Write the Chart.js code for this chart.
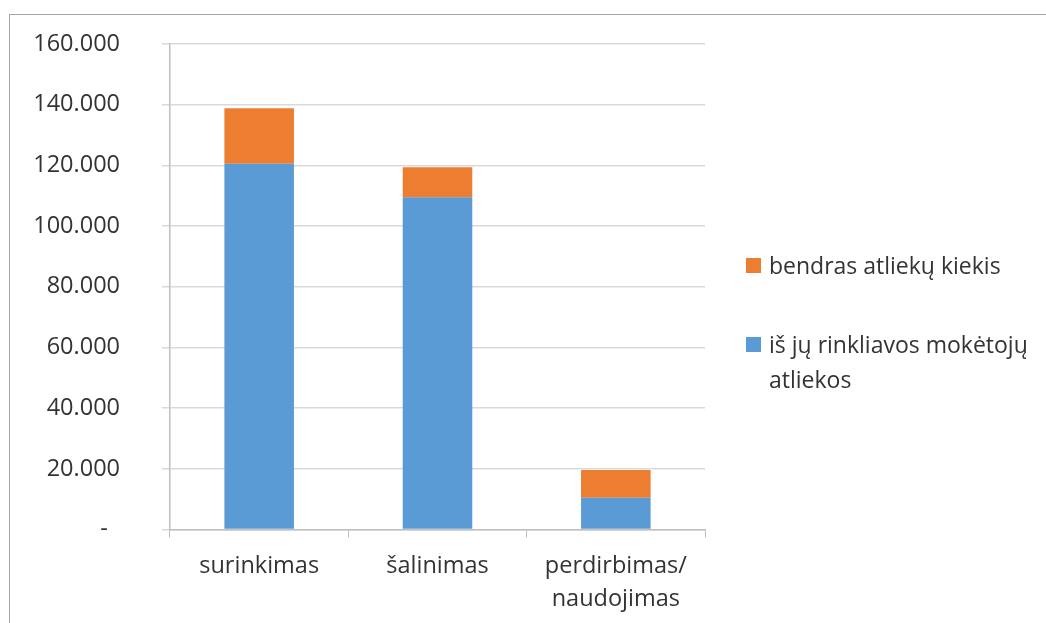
<!DOCTYPE html>
<html>
<head>
<meta charset="utf-8">
<script src="https://cdn.jsdelivr.net/npm/chart.js@4"></script>
<style>
  body { margin: 0; background: #fff; }
  #wrap { position: relative; width: 1046px; height: 623px; overflow: hidden; }
  #frame { position: absolute; left: 9px; top: 14px; right: -5px; bottom: -5px; border: 1px solid #a6a6a6; }
  #legend { position: absolute; left: 746px; top: 0; font-family: "Open Sans", sans-serif; font-size: 23px; color: #333; }
  .item { position: absolute; left: 0; display: flex; align-items: flex-start; white-space: nowrap; }
  .box { width: 15px; height: 15px; margin-top: 10px; margin-right: 8px; }
  .txt { line-height: 35px; }
</style>
</head>
<body>
<div id="wrap">
  <div id="frame"></div>
  <canvas id="wasteChart" width="1046" height="623"></canvas>
  <div id="legend"></div>
</div>
<script>
// kategorijos ir reikšmės (t)
const categories = ['surinkimas', 'šalinimas', ['perdirbimas/', 'naudojimas']];
const payerWaste = [120500, 109500, 10500];   // iš jų rinkliavos mokėtojų atliekos
const otherWaste = [18300, 9900, 9100];       // likusi bendro kiekio dalis
const yMax = 160000;
const yStep = 20000;

const blue = '#5B9BD5';
const orange = '#ED7D31';
const textColor = '#333333';
const gridColor = '#d9d9d9';

const datasets = [
    {
        label: ['iš jų rinkliavos mokėtojų', 'atliekos'],
        data: payerWaste,
        backgroundColor: blue,
        barPercentage: 0.39,
        categoryPercentage: 1
    },
    {
        label: ['bendras atliekų kiekis'],
        data: otherWaste,
        backgroundColor: orange,
        barPercentage: 0.39,
        categoryPercentage: 1
    }
];

const ctx = document.getElementById('wasteChart').getContext('2d');
const wasteChart = new Chart(ctx, {
    type: 'bar',
    data: {
        labels: categories,
        datasets: datasets
    },
    options: {
        responsive: false,
        animation: false,
        layout: {
            padding: { left: 0, top: 44, right: 341, bottom: 0 }
        },
        plugins: {
            legend: { display: false },
            tooltip: { enabled: false }
        },
        scales: {
            x: {
                stacked: true,
                grid: {
                    drawOnChartArea: false,
                    color: '#bfbfbf',
                    tickLength: 8
                },
                border: { color: '#bfbfbf', width: 1.5 },
                ticks: {
                    color: textColor,
                    padding: 12,
                    font: { family: 'Open Sans', size: 23.5, lineHeight: 1.4 }
                },
                afterFit: scale => { scale.height = 93.5; }
            },
            y: {
                stacked: true,
                min: 0,
                max: yMax,
                ticks: {
                    stepSize: yStep,
                    color: textColor,
                    padding: 42,
                    font: { family: 'Open Sans', size: 23.5 },
                    callback: v => v === 0 ? '-  ' : v.toLocaleString('de-DE')
                },
                grid: {
                    color: gridColor,
                    lineWidth: 1.5,
                    tickLength: 8
                },
                border: { color: '#bfbfbf', width: 1.5 },
                afterFit: scale => {
                    scale.width = 170;
                    // didelis label padding neturi stumti grafiko žemyn
                    scale.paddingTop = 10;
                    scale.paddingBottom = 10;
                }
            }
        }
    }
});

// legenda (atvirkštine tvarka, kaip originale)
const legendTops = [248, 327];
const legend = document.getElementById('legend');
datasets.slice().reverse().forEach((ds, i) => {
    const item = document.createElement('div');
    item.className = 'item';
    item.style.top = legendTops[i] + 'px';
    const box = document.createElement('span');
    box.className = 'box';
    box.style.background = ds.backgroundColor;
    const txt = document.createElement('span');
    txt.className = 'txt';
    txt.innerHTML = ds.label.join('<br>');
    item.appendChild(box);
    item.appendChild(txt);
    legend.appendChild(item);
});
</script>
</body>
</html>
